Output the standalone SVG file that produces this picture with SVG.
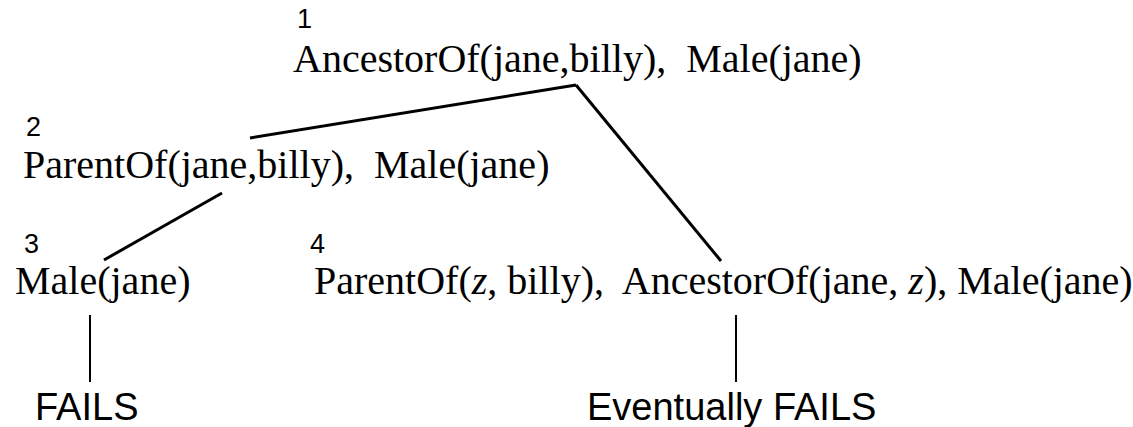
<svg xmlns="http://www.w3.org/2000/svg" width="1133" height="427" viewBox="0 0 1133 427" xml:space="preserve">
<style>
.t{font-family:"Liberation Serif","Times New Roman",serif;font-size:40px;fill:#000;white-space:pre}
.n{font-family:"Liberation Sans",Arial,sans-serif;font-size:27px;fill:#000}
.f{font-family:"Liberation Sans",Arial,sans-serif;font-size:38px;fill:#000;white-space:pre}
.e{stroke:#000;stroke-width:3;fill:none;stroke-linecap:butt}
.v{stroke:#000;stroke-width:2;fill:none}
</style>
<rect width="1133" height="427" fill="#fff"/>
<g id="connectors">
<line class="e" x1="576" y1="85" x2="250" y2="138"/>
<line class="e" x1="576" y1="85" x2="721" y2="261"/>
<line class="e" x1="222" y1="193" x2="104" y2="260"/>
<line class="v" x1="90" y1="315" x2="90" y2="382"/>
<line class="v" x1="736" y1="315" x2="736" y2="382"/>
</g>
<g id="node1">
<text class="n" x="297" y="28">1</text>
<text class="t" x="293" y="72">AncestorOf(jane,billy),  Male(jane)</text>
</g>
<g id="node2">
<text class="n" x="26" y="136">2</text>
<text class="t" x="23" y="178">ParentOf(jane,billy),  Male(jane)</text>
</g>
<g id="node3">
<text class="n" x="24" y="253">3</text>
<text class="t" x="15" y="294">Male(jane)</text>
</g>
<g id="node4">
<text class="n" x="310" y="253">4</text>
<text class="t" x="314" y="294">ParentOf(<tspan font-style="italic">z</tspan>, billy),  AncestorOf(jane, <tspan font-style="italic">z</tspan>), Male(jane)</text>
</g>
<g id="fails">
<text class="f" x="35" y="420">FAILS</text>
</g>
<g id="eventually">
<text class="f" x="587" y="420">Eventually FAILS</text>
</g>
</svg>
